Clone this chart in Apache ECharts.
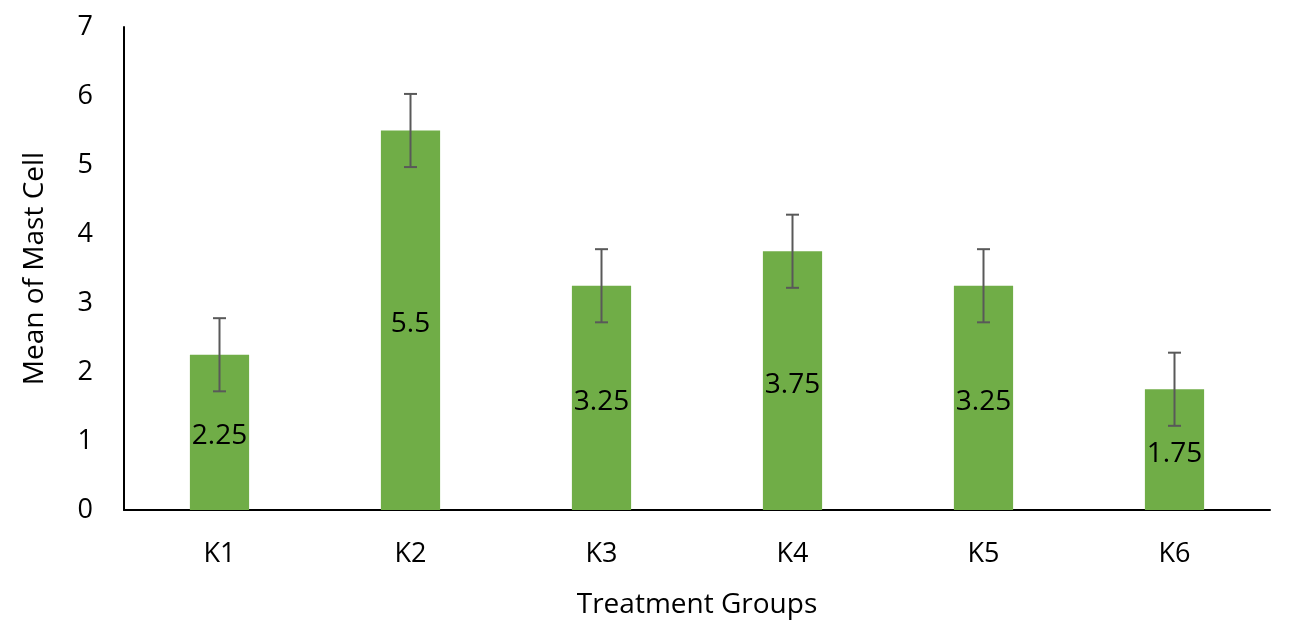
<!DOCTYPE html>
<html><head><meta charset="utf-8">
<script src="https://cdn.jsdelivr.net/npm/echarts@6/dist/echarts.min.js"></script>
<style>html,body{margin:0;padding:0;background:#fff}#c{width:1293px;height:630px}</style>
</head><body><div id="c"></div>
<script>
const categories = ['K1','K2','K3','K4','K5','K6'];
const means = [2.25, 5.5, 3.25, 3.75, 3.25, 1.75];
const errors = [0.53, 0.53, 0.53, 0.53, 0.53, 0.53];
const yTicks = [0,1,2,3,4,5,6,7];

const FONT = '"Open Sans", "Noto Sans", sans-serif';
const chart = echarts.init(document.getElementById('c'));
chart.setOption({
  animation: false,
  grid: {left: 124, right: 23, top: 27, bottom: 120},
  xAxis: {
    type: 'category', data: categories,
    name: 'Treatment Groups', nameLocation: 'middle', nameGap: 81,
    nameTextStyle: {fontFamily: FONT, fontSize: 28, color: '#000'},
    axisLine: {lineStyle: {color: '#000', width: 2}},
    axisTick: {show: false},
    axisLabel: {fontFamily: FONT, fontSize: 27, color: '#000', margin: 31}
  },
  yAxis: {
    type: 'value', min: yTicks[0], max: yTicks[yTicks.length-1], interval: 1,
    name: 'Mean of Mast Cell', nameLocation: 'middle', nameGap: 75,
    nameTextStyle: {fontFamily: FONT, fontSize: 28, color: '#000'},
    axisLine: {show: true, lineStyle: {color: '#000', width: 2}},
    axisTick: {show: false},
    splitLine: {show: false},
    axisLabel: {fontFamily: FONT, fontSize: 27, color: '#000', margin: 31}
  },
  series: [
    {
      type: 'bar', data: means, barWidth: '31%',
      itemStyle: {color: '#70AD47'},
      label: {show: true, position: 'inside', offset: [0, 4], fontFamily: FONT, fontSize: 28, color: '#000'}
    },
    {
      type: 'custom', z: 10,
      data: means.map((m, i) => [i, m - errors[i], m + errors[i]]),
      renderItem: function (params, api) {
        const x = api.value(0);
        const lo = api.coord([x, api.value(1)]);
        const hi = api.coord([x, api.value(2)]);
        const w = 6.5;
        const st = {stroke: '#595959', lineWidth: 2};
        return {type: 'group', children: [
          {type: 'line', shape: {x1: lo[0], y1: lo[1], x2: hi[0], y2: hi[1]}, style: st},
          {type: 'line', shape: {x1: hi[0]-w, y1: hi[1], x2: hi[0]+w, y2: hi[1]}, style: st},
          {type: 'line', shape: {x1: lo[0]-w, y1: lo[1], x2: lo[0]+w, y2: lo[1]}, style: st}
        ]};
      }
    }
  ]
});
</script></body></html>
